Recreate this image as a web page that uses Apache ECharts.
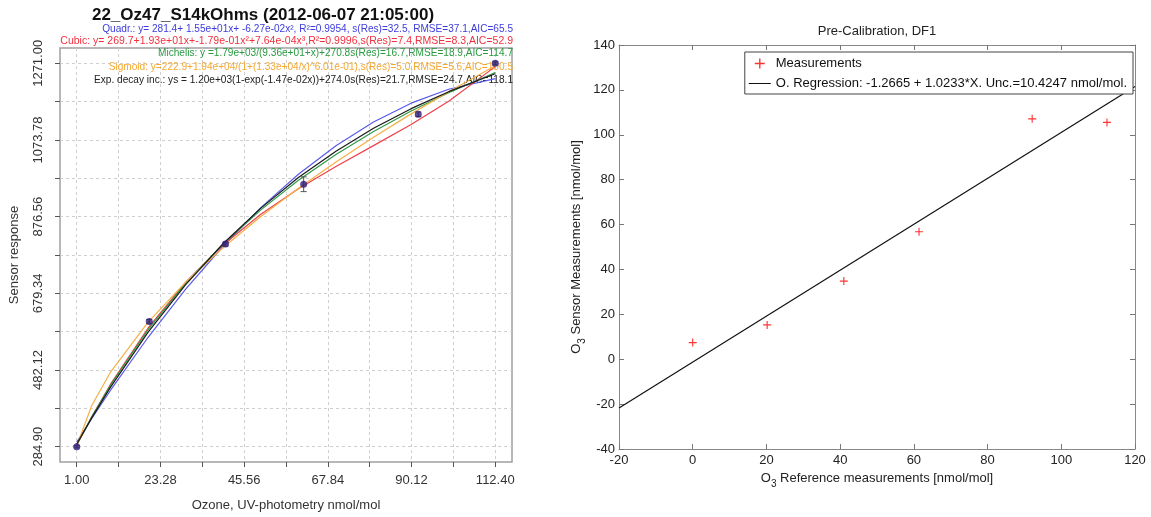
<!DOCTYPE html>
<html>
<head>
<meta charset="utf-8">
<script src="https://cdn.jsdelivr.net/npm/echarts@6/dist/echarts.min.js"></script>
<style>
  html, body { margin: 0; padding: 0; background: #fff; }
  #chart { width: 1151px; height: 517px; }
</style>
</head>
<body>
<div id="chart"></div>
<script>
// ---------- Left panel: sensor response vs. UV-photometry ozone ----------
const ozoneRef   = [1.0, 20.3, 40.6, 61.4, 91.9, 112.4];
const sensorResp = [284.9, 607, 806, 960, 1140, 1271];
const sensorErr  = [3, 5, 5, 19, 6, 4];

// fitted curves, sampled along the ozone range
const fitX     = [1, 5, 10, 20, 30, 40, 50, 60, 70, 80, 90, 100, 112.4];
const quadFit  = [296.8, 357.3, 430.1, 566.3, 690.0, 801.1, 899.7, 985.7, 1059.2, 1120.1, 1168.5, 1204.4, 1231.5];
const cubicFit = [288.8, 361.8, 445.6, 590.2, 708.2, 804.2, 882.7, 948.3, 1005.7, 1059.3, 1113.8, 1173.7, 1262.5];
const michFit  = [289.7, 361.6, 443.6, 585.9, 705.3, 806.7, 894.1, 970.0, 1036.7, 1095.7, 1148.3, 1195.4, 1247.5];
const sigFit   = [287.2, 391.0, 476.8, 605.3, 708.3, 797.2, 876.8, 949.8, 1017.3, 1080.9, 1141.0, 1197.8, 1264.8];
const expFit   = [291.5, 359.0, 438.0, 579.6, 701.9, 807.5, 898.6, 977.2, 1045.1, 1103.8, 1154.4, 1198.1, 1244.1];

const fitLabels = [
  'Quadr.: y= 281.4+ 1.55e+01x+ -6.27e-02x\u00b2, R\u00b2=0.9954, s(Res)=32.5, RMSE=37.1,AIC=65.5',
  'Cubic: y= 269.7+1.93e+01x+-1.79e-01x\u00b2+7.64e-04x\u00b3,R\u00b2=0.9996,s(Res)=7.4,RMSE=8.3,AIC=52.9',
  'Michelis: y =1.79e+03/(9.36e+01+x)+270.8s(Res)=16.7,RMSE=18.9,AIC=114.7',
  'Sigmoid: y=222.9+1.94e+04/(1+(1.33e+04/x)^6.01e-01),s(Res)=5.0,RMSE=5.6,AIC=100.5',
  'Exp. decay inc.: ys = 1.20e+03(1-exp(-1.47e-02x))+274.0s(Res)=21.7,RMSE=24.7,AIC=118.1'
];
const fitColors = ['#5a5aea', '#f0404c', '#2f9a47', '#f6b046', '#1a1a1a'];
const fitTextColors = ['#3c3cdc', '#f2303e', '#2a9a40', '#f5a830', '#222222'];

const leftXTicks  = [1.00, 12.14, 23.28, 34.42, 45.56, 56.70, 67.84, 78.98, 90.12, 101.26, 112.40];
const leftXLabels = [1.00, 23.28, 45.56, 67.84, 90.12, 112.40];
const leftYTicks  = [284.90, 383.51, 482.12, 580.73, 679.34, 777.95, 876.56, 975.17, 1073.78, 1172.39, 1271.00];
const leftYLabels = [284.90, 482.12, 679.34, 876.56, 1073.78, 1271.00];

// ---------- Right panel: pre-calibration regression ----------
const refMeas    = [0, 20.2, 41.0, 61.4, 92.1, 112.4];
const sensorMeas = [7.4, 15.3, 34.8, 56.8, 107.1, 105.5];
const regIntercept = -1.2665;
const regSlope = 1.0233;
const regXRange = [-20, 120];
const measName = 'Measurements';
const regName = 'O. Regression: -1.2665 + 1.0233*X. Unc.=10.4247 nmol/mol.';

const FONT = '"Liberation Sans", Arial, Helvetica, sans-serif';

const fitSeries = [quadFit, cubicFit, michFit, sigFit, expFit].map((vals, k) => ({
  type: 'line',
  name: 'fit' + k,
  xAxisIndex: 0, yAxisIndex: 0,
  data: fitX.map((x, i) => [x, vals[i]]),
  showSymbol: false,
  symbol: 'none',
  lineStyle: { color: fitColors[k], width: 1.2 },
  itemStyle: { color: fitColors[k] },
  z: 2
}));

const fitTextY = [29.5, 41.5, 53, 67, 80.5];
const fitTextSize = [10.1, 10.5, 10.1, 10.1, 10.1];
const fitTexts = fitLabels.map((t, k) => ({
  type: 'text',
  x: 513, y: fitTextY[k],
  z: 1,
  style: {
    text: t, align: 'right', verticalAlign: 'middle',
    fontSize: fitTextSize[k], fontFamily: FONT, fill: fitTextColors[k]
  }
}));

const regLine = regXRange.map(x => [x, regIntercept + regSlope * x]);

// axis frame pieces for the right panel (all four sides, ticks pointing in)
const frameLine = { show: true, onZero: false, lineStyle: { color: '#888', width: 1 } };
const innerTick = { show: true, inside: true, length: 5, lineStyle: { color: '#777' } };

// legend glyphs: a red plus and a plain horizontal line (corner specks fix the box)
const plusIcon = 'path://M4.3,0H5.7V10H4.3Z M0,4.3H10V5.7H0Z';
const lineIcon = 'path://M0,0H0.05V0.05H0Z M0,4.4H22V5.6H0Z M21.95,9.95H22V10H21.95Z';

const chart = echarts.init(document.getElementById('chart'), null, { renderer: 'canvas' });
chart.setOption({
  animation: false,
  backgroundColor: '#fff',
  textStyle: { fontFamily: FONT },
  title: [
    {
      text: '22_Oz47_S14kOhms (2012-06-07 21:05:00)',
      left: 263, top: 7, textAlign: 'center', padding: 0,
      textStyle: { fontSize: 17, fontWeight: 'bold', color: '#111', fontFamily: FONT }
    },
    {
      text: 'Pre-Calibration, DF1',
      left: 877, top: 25, textAlign: 'center', padding: 0,
      textStyle: { fontSize: 13, fontWeight: 'normal', color: '#222', fontFamily: FONT }
    }
  ],
  legend: {
    data: [
      { name: measName, icon: plusIcon },
      { name: regName, icon: lineIcon, itemStyle: { color: '#111' } }
    ],
    orient: 'vertical',
    right: 18, top: 52,
    padding: [5, 6, 4, 4],
    itemGap: 7,
    itemWidth: 22, itemHeight: 10,
    borderColor: '#444', borderWidth: 1,
    backgroundColor: '#fff',
    textStyle: { fontSize: 13, color: '#111', fontFamily: FONT },
    selectedMode: false
  },
  grid: [
    { left: 60, right: 639, top: 48, bottom: 50, show: true, borderColor: '#a0a0a0', borderWidth: 1.5, backgroundColor: 'transparent' },
    { left: 619, right: 16, top: 45, bottom: 68 }
  ],
  xAxis: [
    {
      type: 'value', gridIndex: 0, min: -3.456, max: 116.856,
      name: 'Ozone, UV-photometry nmol/mol', nameLocation: 'middle', nameGap: 37,
      nameTextStyle: { fontSize: 13, color: '#333' },
      axisLine: { show: false, onZero: false },
      axisTick: { show: true, length: 5, customValues: leftXTicks, lineStyle: { color: '#555' } },
      axisLabel: { customValues: leftXLabels, formatter: v => v.toFixed(2), fontSize: 13, color: '#333', margin: 12 },
      splitLine: { show: true, lineStyle: { color: '#cfcfcf', type: [3, 3], width: 1 } }
    },
    {
      type: 'value', gridIndex: 1, min: -20, max: 120, interval: 20, position: 'bottom',
      name: '{o|O}{s|3}{o| Reference measurements [nmol/mol]}',
      nameLocation: 'middle', nameGap: 17,
      nameTextStyle: {
        rich: {
          o: { fontSize: 13, color: '#222', lineHeight: 21 },
          s: { fontSize: 10, color: '#222', lineHeight: 10, verticalAlign: 'bottom' }
        }
      },
      axisLine: frameLine,
      axisTick: innerTick,
      axisLabel: { fontSize: 13, color: '#222', margin: 5 },
      splitLine: { show: false }
    },
    {
      type: 'value', gridIndex: 1, min: -20, max: 120, interval: 20, position: 'top',
      axisLine: frameLine,
      axisTick: innerTick,
      axisLabel: { show: false },
      splitLine: { show: false }
    }
  ],
  yAxis: [
    {
      type: 'value', gridIndex: 0, min: 245.456, max: 1310.444,
      name: 'Sensor response', nameLocation: 'middle', nameGap: 39,
      nameTextStyle: { fontSize: 13, color: '#333' },
      axisLine: { show: false, onZero: false },
      axisTick: { show: true, length: 5, customValues: leftYTicks, lineStyle: { color: '#555' } },
      axisLabel: { customValues: leftYLabels, formatter: v => v.toFixed(2), rotate: 90, fontSize: 13, color: '#333', margin: 15 },
      splitLine: { show: true, lineStyle: { color: '#cfcfcf', type: [3, 3], width: 1 } }
    },
    {
      type: 'value', gridIndex: 1, min: -40, max: 140, interval: 20, position: 'left',
      name: '{o|O}{s|3}{o| Sensor Measurements [nmol/mol]}',
      nameLocation: 'middle', nameGap: 32,
      nameTextStyle: {
        rich: {
          o: { fontSize: 13, color: '#222', lineHeight: 21 },
          s: { fontSize: 10, color: '#222', lineHeight: 10, verticalAlign: 'bottom' }
        }
      },
      axisLine: frameLine,
      axisTick: innerTick,
      axisLabel: { fontSize: 13, color: '#222', margin: 4 },
      splitLine: { show: false }
    },
    {
      type: 'value', gridIndex: 1, min: -40, max: 140, interval: 20, position: 'right',
      axisLine: frameLine,
      axisTick: innerTick,
      axisLabel: { show: false },
      splitLine: { show: false }
    }
  ],
  graphic: fitTexts,
  series: [
    ...fitSeries,
    {
      type: 'custom',
      name: 'errorbars',
      xAxisIndex: 0, yAxisIndex: 0,
      data: ozoneRef.map((x, i) => [x, sensorResp[i] - sensorErr[i], sensorResp[i] + sensorErr[i]]),
      renderItem: function (params, api) {
        const lo = api.coord([api.value(0), api.value(1)]);
        const hi = api.coord([api.value(0), api.value(2)]);
        const w = 3;
        const st = { stroke: '#555', lineWidth: 1 };
        return {
          type: 'group',
          children: [
            { type: 'line', shape: { x1: lo[0], y1: lo[1], x2: hi[0], y2: hi[1] }, style: st },
            { type: 'line', shape: { x1: lo[0] - w, y1: lo[1], x2: lo[0] + w, y2: lo[1] }, style: st },
            { type: 'line', shape: { x1: hi[0] - w, y1: hi[1], x2: hi[0] + w, y2: hi[1] }, style: st }
          ]
        };
      },
      z: 3
    },
    {
      type: 'scatter',
      name: 'points',
      xAxisIndex: 0, yAxisIndex: 0,
      data: ozoneRef.map((x, i) => [x, sensorResp[i]]),
      symbol: 'circle', symbolSize: 7,
      itemStyle: { color: '#2e1d7a' },
      z: 4
    },
    {
      type: 'line',
      name: regName,
      xAxisIndex: 1, yAxisIndex: 1,
      data: regLine,
      showSymbol: false,
      symbol: 'none',
      lineStyle: { color: '#111', width: 1.2 },
      itemStyle: { color: '#111' },
      z: 2
    },
    {
      type: 'scatter',
      name: measName,
      xAxisIndex: 1, yAxisIndex: 1,
      data: refMeas.map((x, i) => [x, sensorMeas[i]]),
      symbol: plusIcon,
      symbolSize: 8,
      itemStyle: { color: '#ff0000' },
      z: 3
    }
  ]
});
</script>
</body>
</html>
